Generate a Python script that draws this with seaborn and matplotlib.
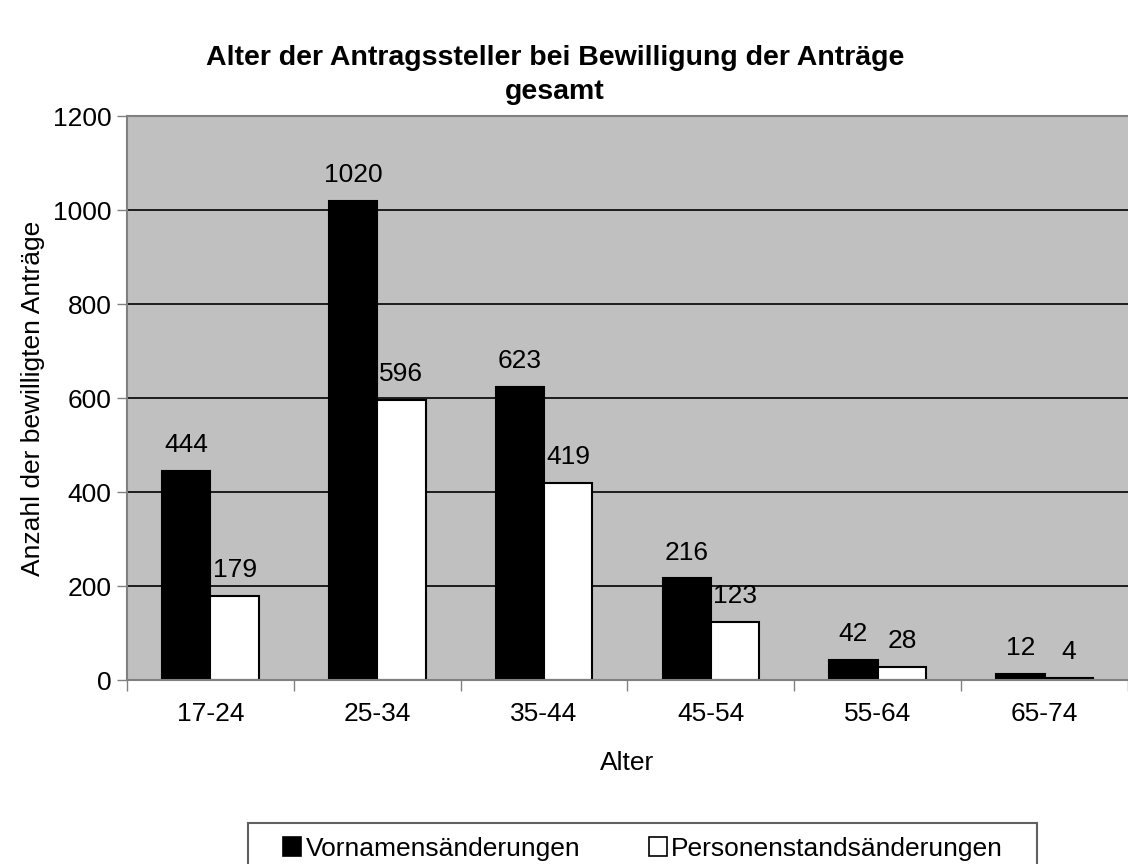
import numpy as np
import pandas as pd
import matplotlib
matplotlib.use("Agg")
import matplotlib.pyplot as plt
from matplotlib.patches import Rectangle
import seaborn as sns

# ====================== 数据 ======================
alter = ["17-24", "25-34", "35-44", "45-54", "55-64", "65-74"]
vornamen = [444, 1020, 623, 216, 42, 12]
personenstand = [179, 596, 419, 123, 28, 4]
serien = ["Vornamensänderungen", "Personenstandsänderungen"]
y_ticks = [0, 200, 400, 600, 800, 1000, 1200]

df = pd.DataFrame({
    "Alter": alter * 2,
    "Anzahl": vornamen + personenstand,
    "Serie": [serien[0]] * len(alter) + [serien[1]] * len(alter),
})

sns.set_theme(style="white")
plt.rcParams['font.family'] = ['Liberation Sans', 'DejaVu Sans']
plt.rcParams['text.color'] = 'black'
plt.rcParams['axes.labelcolor'] = 'black'

fs = 19
W, H = 1128, 864

fig = plt.figure(figsize=(11.28, 8.64), dpi=100)
ax = fig.add_axes([127 / W, 1 - 680 / H, 1 - 127 / W, (680 - 116) / H])
ax.set_facecolor("#C0C0C0")

sns.barplot(data=df, x="Alter", y="Anzahl", hue="Serie", order=alter, hue_order=serien,
            palette=["black", "white"], edgecolor="black", linewidth=1.5,
            width=0.58, saturation=1, ax=ax, legend=True)

# gridlines
for y in y_ticks[1:]:
    ax.axhline(y, color="black", lw=1.2, zorder=0.5)
ax.set_axisbelow(True)

# value labels
for cont in ax.containers:
    ax.bar_label(cont, fontsize=fs, padding=10, color="black")

ax.set_ylim(0, 1200)
ax.set_xlim(-0.5, 5.5)
ax.set_yticks(y_ticks)
ax.tick_params(axis="y", labelsize=fs, length=7, width=1, color="#808080",
               labelcolor="black", left=True, pad=4)
ax.tick_params(axis="x", labelsize=fs, length=0, pad=16, labelcolor="black")
ax.set_xticks(np.arange(-0.5, 6, 1), minor=True)
ax.tick_params(axis="x", which="minor", length=8, width=1, color="#808080", bottom=True)

for s in ["left", "top", "bottom"]:
    ax.spines[s].set_color("#808080")
    ax.spines[s].set_linewidth(1.5)
ax.spines["right"].set_visible(False)

ax.set_xlabel("Alter", fontsize=fs, labelpad=18)
ax.set_ylabel("Anzahl der bewilligten Anträge", fontsize=fs, labelpad=6)

fig.text(555 / W, 1 - 75 / H, "Alter der Antragssteller bei Bewilligung der Anträge\ngesamt",
         ha="center", va="center", fontsize=20.5, fontweight="bold", linespacing=1.4)

# legend (Excel-Stil, Rahmen separat)
ax.legend_.remove()
handles = [plt.Rectangle((0, 0), 1, 1, facecolor=c, edgecolor="black", lw=1.2) for c in ["black", "white"]]
leg = fig.legend(handles, serien, loc="upper center", bbox_to_anchor=(643 / W, 1 - 825 / H),
                 ncol=2, fontsize=fs, frameon=False,
                 handlelength=0.7, handleheight=0.7, handletextpad=0.15, columnspacing=2.6,
                 borderpad=0.45, borderaxespad=0)
fig.add_artist(Rectangle((248 / W, -0.05), (1037 - 248) / W, 0.05 + 1 - 823 / H,
                         transform=fig.transFigure, facecolor="none",
                         edgecolor="#606060", lw=1.5))

plt.savefig("out.png", dpi=100)
plt.close()
